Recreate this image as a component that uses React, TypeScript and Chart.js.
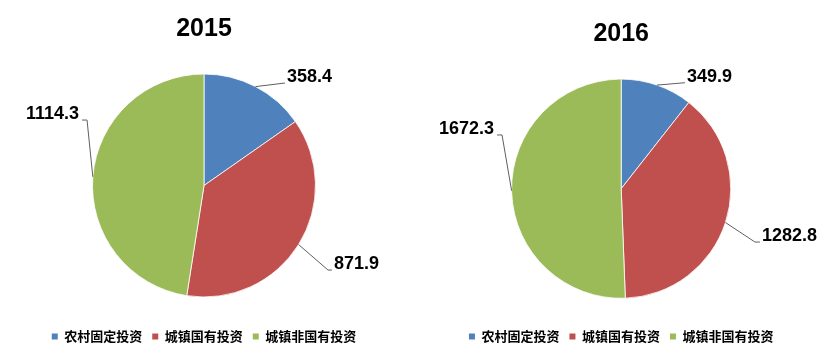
import React, { useEffect, useRef } from "react";
import { Chart, registerables } from "chart.js";

Chart.register(...registerables);

// ---- data ----
const categories = ["农村固定投资", "城镇国有投资", "城镇非国有投资"];
const years = ["2015", "2016"];
const values2015 = [358.4, 871.9, 1114.3];
const values2016 = [349.9, 1282.8, 1672.3];

// ---- styling / layout ----
const colors = ["#4F81BD", "#C0504D", "#9BBB59"];
// leader line shape per slice: [elbow dx, elbow dy, horizontal tail]
const leaders2015 = [
  [29.5, -3.6, 0],
  [29.4, 25.5, 4],
  [-5.8, -56.8, -5],
];
const leaders2016 = [
  [28, -2.4, 0],
  [29.5, 19.5, 5],
  [-9.6, -55.8, -5],
];

const numFont = "'Liberation Sans', Arial, sans-serif";
const cjkFont = "'Microsoft YaHei', 'Noto Sans CJK SC', sans-serif";

const leaderPlugin = {
  id: "leaders",
  afterDatasetsDraw(chart: any, _args: any, opts: any) {
    const ctx = chart.ctx as CanvasRenderingContext2D;
    const meta = chart.getDatasetMeta(0);
    const data = chart.data.datasets[0].data as number[];
    const shapes = opts.shapes as number[][];
    ctx.save();
    meta.data.forEach((arc: any, i: number) => {
      const p = arc.getProps(["x", "y", "startAngle", "endAngle", "outerRadius"], true);
      const mid = (p.startAngle + p.endAngle) / 2;
      const ex = p.x + Math.cos(mid) * p.outerRadius;
      const ey = p.y + Math.sin(mid) * p.outerRadius;
      const [dx, dy, tail] = shapes[i];
      const bx = ex + dx;
      const by = ey + dy;
      const tx = bx + tail;
      ctx.beginPath();
      ctx.strokeStyle = "#5f5f5f";
      ctx.lineWidth = 1;
      ctx.moveTo(ex, ey);
      ctx.lineTo(bx, by);
      if (tail !== 0) ctx.lineTo(tx, by);
      ctx.stroke();
      const left = dx < 0;
      ctx.font = `bold 18px ${numFont}`;
      ctx.fillStyle = "#000";
      ctx.textBaseline = "middle";
      ctx.textAlign = left ? "right" : "left";
      ctx.fillText(data[i].toFixed(1), left ? tx - 3 : tx + 2, by - 6);
    });
    ctx.restore();
  },
};

type Props = {
  title: string;
  values: number[];
  shapes: number[][];
  radius: number;
  padding: { left: number; right: number; top: number; bottom: number };
  titlePad: { top: number; bottom: number };
  width: number;
  left: number;
};

function PieChart(props: Props) {
  const ref = useRef<HTMLCanvasElement | null>(null);
  useEffect(() => {
    if (!ref.current) return;
    const chart = new Chart(ref.current, {
      type: "pie",
      data: {
        labels: categories,
        datasets: [
          {
            data: props.values,
            backgroundColor: colors,
            borderColor: "#ffffff",
            borderWidth: 0.8,
            radius: props.radius,
          } as any,
        ],
      },
      options: {
        responsive: false,
        animation: false,
        devicePixelRatio: 1,
        events: [],
        layout: { padding: props.padding },
        plugins: {
          title: {
            display: true,
            text: props.title,
            color: "#000",
            font: { size: 25, weight: "bold", family: numFont, lineHeight: 1.2 },
            padding: props.titlePad,
          },
          legend: {
            display: true,
            position: "bottom",
            labels: {
              boxWidth: 6,
              boxHeight: 6,
              padding: 10,
              color: "#000",
              font: { size: 13, weight: "bold", family: cjkFont },
              generateLabels: (c: any) =>
                (Chart as any).overrides.pie.plugins.legend.labels
                  .generateLabels(c)
                  .map((l: any) => ({ ...l, lineWidth: 0, strokeStyle: "rgba(0,0,0,0)" })),
            },
          },
          tooltip: { enabled: false },
          leaders: { shapes: props.shapes },
        } as any,
      },
      plugins: [leaderPlugin],
    });
    return () => chart.destroy();
  }, []);
  return (
    <canvas
      ref={ref}
      width={props.width}
      height={355}
      style={{ position: "absolute", left: props.left, top: 0, width: props.width, height: 355, display: "block" }}
    />
  );
}

export default function App() {
  return (
    <div style={{ position: "absolute", left: 0, top: 0, width: 819, height: 355, background: "#fff", overflow: "hidden" }}>
      <PieChart
        title={years[0]}
        values={values2015}
        shapes={leaders2015}
        radius={111.5}
        padding={{ left: 0, right: 2, top: 0, bottom: 2 }}
        titlePad={{ top: 14, bottom: 7 }}
        width={410}
        left={0}
      />
      <PieChart
        title={years[1]}
        values={values2016}
        shapes={leaders2016}
        radius={109.6}
        padding={{ left: 13.4, right: 0, top: 0, bottom: 2 }}
        titlePad={{ top: 19.5, bottom: 7.9 }}
        width={409}
        left={410}
      />
    </div>
  );
}
